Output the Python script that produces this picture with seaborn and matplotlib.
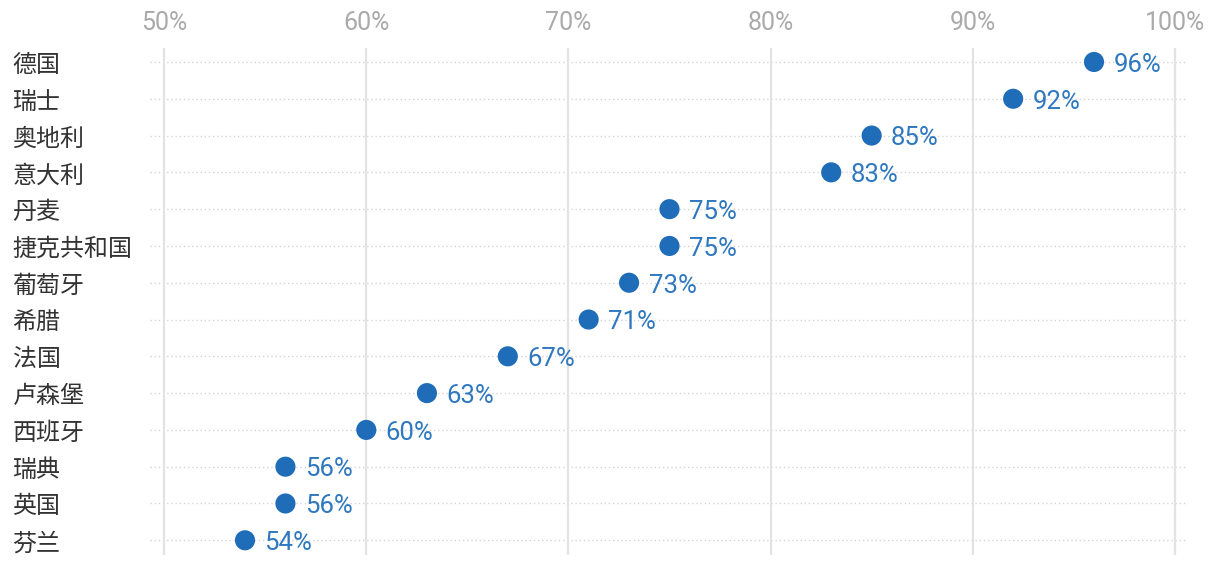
import pandas as pd
import seaborn as sns
import matplotlib.pyplot as plt
from matplotlib.ticker import FuncFormatter

# countries and share values (percent)
countries = ['德国', '瑞士', '奥地利', '意大利', '丹麦', '捷克共和国', '葡萄牙',
             '希腊', '法国', '卢森堡', '西班牙', '瑞典', '英国', '芬兰']
values = [96, 92, 85, 83, 75, 75, 73, 71, 67, 63, 60, 56, 56, 54]
xticks = [50, 60, 70, 80, 90, 100]

df = pd.DataFrame({'country': countries, 'value': values})
df['pos'] = range(len(df))

sns.set_style('white')
plt.rcParams['font.family'] = ['Noto Sans CJK SC', 'DejaVu Sans']
num_font = ['Roboto', 'DejaVu Sans']

fig = plt.figure(figsize=(12.2, 5.66), dpi=100)
ax = fig.add_axes([150 / 1220, 11 / 566, 1038 / 1220, 507 / 566])

# dotted row lines
for p in df['pos']:
    ax.axhline(p, color='#d4d4d4', lw=1, ls=(0, (1, 2)), zorder=0)
for t in xticks:
    ax.axvline(t, color='#e3e3e3', lw=1.6, zorder=0)

sns.scatterplot(data=df, x='value', y='pos', ax=ax, s=210, color='#1f6db8',
                edgecolor='none', zorder=3)

for v, p in zip(df['value'], df['pos']):
    ax.annotate(f'{v}%', (v, p), xytext=(14, -2), textcoords='offset points',
                ha='left', va='center', fontsize=18.5, color='#2f78c0',
                family=num_font)

ax.set_xlim(49.3, 100.65)
ax.set_ylim(len(df) - 0.6, -0.38)
ax.set_xticks(xticks)
ax.xaxis.set_major_formatter(FuncFormatter(lambda x, _: f'{x:.0f}%'))
ax.set_yticks(df['pos'])
ax.set_yticklabels(df['country'])
ax.xaxis.tick_top()
ax.tick_params(axis='x', length=0, pad=9, labelsize=18, labelcolor='#aaaaaa')
ax.tick_params(axis='y', length=0, pad=99, labelsize=17.3, labelcolor='#333333')
for lab in ax.get_xticklabels():
    lab.set_family(num_font)
for lab in ax.get_yticklabels():
    lab.set_horizontalalignment('left')
ax.set_xlabel('')
ax.set_ylabel('')
for s in ax.spines.values():
    s.set_visible(False)

fig.savefig('out.png', dpi=100)
